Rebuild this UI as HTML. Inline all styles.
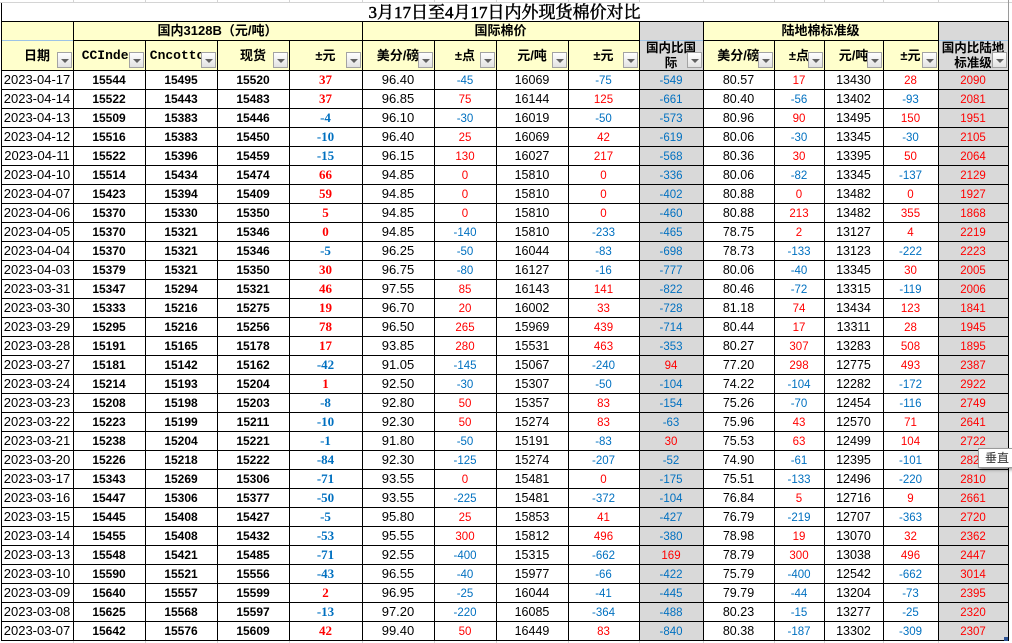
<!DOCTYPE html>
<html><head><meta charset="utf-8">
<style>
*{margin:0;padding:0;box-sizing:border-box}
html,body{width:1012px;height:643px;overflow:hidden;background:#fff}
#c{position:relative;width:1012px;height:643px;background:#fff;font-family:"Liberation Sans","Noto Sans CJK SC",sans-serif}
.abs{position:absolute}
.yel{background:#ffffcc}
.gry{background:#d9d9d9}
.hl{position:absolute;height:1px;background:#000}
.vl{position:absolute;width:1px;background:#000}
.gl{position:absolute;background:#d4d4d4}
.title{position:absolute;left:1px;top:4px;width:1007px;height:18px;line-height:18px;text-align:center;font-family:"Liberation Serif","Noto Serif CJK SC",serif;font-size:17px;-webkit-text-stroke:0.5px #000;color:#000;white-space:nowrap}
.h1{position:absolute;top:22px;height:18px;line-height:18px;text-align:center;font-family:"Liberation Sans","Noto Sans CJK SC",sans-serif;font-weight:bold;font-size:13px;color:#000;white-space:nowrap}
.hrow{position:absolute;left:1px;top:41px;height:29px;display:flex}
.hrow span{display:block;height:29px;line-height:30px;text-align:center;overflow:hidden;white-space:nowrap;font-family:"Liberation Sans","Noto Sans CJK SC",sans-serif;font-weight:bold;font-size:13px;color:#000}
.hrow span.m{font-family:"Liberation Mono",monospace;font-size:13px}
.hrow span.two{white-space:normal;line-height:15px;font-size:12.5px;padding:0 2px;word-break:break-all}
.row{position:absolute;left:1px;height:19px;display:flex;border-top:1px solid #000;width:1008px}
.row span{display:block;height:18px;line-height:18px;text-align:center;overflow:hidden;white-space:nowrap;font-family:"Liberation Sans",sans-serif;font-size:13px;color:#000}
.row span:nth-child(1),.hrow span:nth-child(1){width:72px}
.row span:nth-child(2),.hrow span:nth-child(2){width:72px}
.row span:nth-child(3),.hrow span:nth-child(3){width:72px}
.row span:nth-child(4),.hrow span:nth-child(4){width:72px}
.row span:nth-child(5),.hrow span:nth-child(5){width:73px}
.row span:nth-child(6),.hrow span:nth-child(6){width:72px}
.row span:nth-child(7),.hrow span:nth-child(7){width:62px}
.row span:nth-child(8),.hrow span:nth-child(8){width:72px}
.row span:nth-child(9),.hrow span:nth-child(9){width:71px}
.row span:nth-child(10),.hrow span:nth-child(10){width:64px}
.row span:nth-child(11),.hrow span:nth-child(11){width:71px}
.row span:nth-child(12),.hrow span:nth-child(12){width:50px}
.row span:nth-child(13),.hrow span:nth-child(13){width:59px}
.row span:nth-child(14),.hrow span:nth-child(14){width:55px}
.row span:nth-child(15),.hrow span:nth-child(15){width:70px}
.row span:nth-child(2),.row span:nth-child(3),.row span:nth-child(4){font-weight:bold;font-size:12px}
.row span:nth-child(5){font-family:"Liberation Serif",serif;font-weight:bold;font-size:13px}
.row span:nth-child(8),.row span:nth-child(11),.row span:nth-child(13){font-size:12.5px}
.row span:nth-child(7),.row span:nth-child(9),.row span:nth-child(10),.row span:nth-child(12),.row span:nth-child(14),.row span:nth-child(15){font-size:11.5px;padding-top:1px}
.row span.r{color:#ff0000}
.row span.b{color:#0070c0}
.btn{position:absolute;top:52px;width:15px;height:16px;border:1px solid #a3a3a3;background:linear-gradient(#fefefe,#e2e2e2)}
.btn:after{content:"";position:absolute;left:3px;top:6px;border-left:4px solid transparent;border-right:4px solid transparent;border-top:4px solid #606060}
.tip{position:absolute;left:978px;top:448px;width:40px;height:20px;background:#fff;border:1px solid #9a9a9a;box-shadow:2px 2px 3px rgba(0,0,0,.35);font-family:"Noto Sans CJK SC",sans-serif;font-size:12px;line-height:18px;padding-left:6px;color:#333}
</style></head><body>
<div id="c">
<div class="gl" style="left:0;top:2px;width:1012px;height:1px"></div>
<div class="gl" style="left:73px;top:0;width:1px;height:3px"></div>
<div class="gl" style="left:145px;top:0;width:1px;height:3px"></div>
<div class="gl" style="left:217px;top:0;width:1px;height:3px"></div>
<div class="gl" style="left:289px;top:0;width:1px;height:3px"></div>
<div class="gl" style="left:362px;top:0;width:1px;height:3px"></div>
<div class="gl" style="left:434px;top:0;width:1px;height:3px"></div>
<div class="gl" style="left:496px;top:0;width:1px;height:3px"></div>
<div class="gl" style="left:568px;top:0;width:1px;height:3px"></div>
<div class="gl" style="left:639px;top:0;width:1px;height:3px"></div>
<div class="gl" style="left:703px;top:0;width:1px;height:3px"></div>
<div class="gl" style="left:774px;top:0;width:1px;height:3px"></div>
<div class="gl" style="left:824px;top:0;width:1px;height:3px"></div>
<div class="gl" style="left:883px;top:0;width:1px;height:3px"></div>
<div class="gl" style="left:938px;top:0;width:1px;height:3px"></div>
<div class="gl" style="left:1008px;top:0;width:1px;height:21px;background:#9a9a9a"></div>
<div class="gl" style="left:73px;top:641px;width:1px;height:2px"></div>
<div class="gl" style="left:145px;top:641px;width:1px;height:2px"></div>
<div class="gl" style="left:217px;top:641px;width:1px;height:2px"></div>
<div class="gl" style="left:289px;top:641px;width:1px;height:2px"></div>
<div class="gl" style="left:362px;top:641px;width:1px;height:2px"></div>
<div class="gl" style="left:434px;top:641px;width:1px;height:2px"></div>
<div class="gl" style="left:496px;top:641px;width:1px;height:2px"></div>
<div class="gl" style="left:568px;top:641px;width:1px;height:2px"></div>
<div class="gl" style="left:639px;top:641px;width:1px;height:2px"></div>
<div class="gl" style="left:703px;top:641px;width:1px;height:2px"></div>
<div class="gl" style="left:774px;top:641px;width:1px;height:2px"></div>
<div class="gl" style="left:824px;top:641px;width:1px;height:2px"></div>
<div class="gl" style="left:883px;top:641px;width:1px;height:2px"></div>
<div class="gl" style="left:938px;top:641px;width:1px;height:2px"></div>

<div class="abs yel" style="left:1px;top:21px;width:1007px;height:49px"></div>
<div class="abs gry" style="left:639px;top:21px;width:64px;height:620px"></div>
<div class="abs gry" style="left:938px;top:21px;width:70px;height:620px"></div>

<div class="title">3月17日至4月17日内外现货棉价对比</div>

<div class="h1" style="left:73px;width:289px">国内3128B（元/吨）</div>
<div class="h1" style="left:362px;width:277px">国际棉价</div>
<div class="h1" style="left:703px;width:235px">陆地棉标准级</div>

<div class="hrow">
<span>日期</span><span class="m">CCIndex</span><span class="m">Cncotton</span><span>现货</span><span>±元</span><span>美分/磅</span><span>±点</span><span>元/吨</span><span>±元</span><span class="two">国内比国际</span><span>美分/磅</span><span>±点</span><span>元/吨</span><span>±元</span><span class="two">国内比陆地标准级</span>
</div>

<div class="btn" style="left:57px"></div>
<div class="btn" style="left:129px"></div>
<div class="btn" style="left:201px"></div>
<div class="btn" style="left:273px"></div>
<div class="btn" style="left:346px"></div>
<div class="btn" style="left:418px"></div>
<div class="btn" style="left:480px"></div>
<div class="btn" style="left:552px"></div>
<div class="btn" style="left:623px"></div>
<div class="btn" style="left:687px"></div>
<div class="btn" style="left:758px"></div>
<div class="btn" style="left:808px"></div>
<div class="btn" style="left:867px"></div>
<div class="btn" style="left:922px"></div>
<div class="btn" style="left:992px"></div>

<div class="row" style="top:70px"><span>2023-04-17</span><span>15544</span><span>15495</span><span>15520</span><span class="r">37</span><span>96.40</span><span class="b">-45</span><span>16069</span><span class="b">-75</span><span class="b">-549</span><span>80.57</span><span class="r">17</span><span>13430</span><span class="r">28</span><span class="r">2090</span></div>
<div class="row" style="top:89px"><span>2023-04-14</span><span>15522</span><span>15443</span><span>15483</span><span class="r">37</span><span>96.85</span><span class="r">75</span><span>16144</span><span class="r">125</span><span class="b">-661</span><span>80.40</span><span class="b">-56</span><span>13402</span><span class="b">-93</span><span class="r">2081</span></div>
<div class="row" style="top:108px"><span>2023-04-13</span><span>15509</span><span>15383</span><span>15446</span><span class="b">-4</span><span>96.10</span><span class="b">-30</span><span>16019</span><span class="b">-50</span><span class="b">-573</span><span>80.96</span><span class="r">90</span><span>13495</span><span class="r">150</span><span class="r">1951</span></div>
<div class="row" style="top:127px"><span>2023-04-12</span><span>15516</span><span>15383</span><span>15450</span><span class="b">-10</span><span>96.40</span><span class="r">25</span><span>16069</span><span class="r">42</span><span class="b">-619</span><span>80.06</span><span class="b">-30</span><span>13345</span><span class="b">-30</span><span class="r">2105</span></div>
<div class="row" style="top:146px"><span>2023-04-11</span><span>15522</span><span>15396</span><span>15459</span><span class="b">-15</span><span>96.15</span><span class="r">130</span><span>16027</span><span class="r">217</span><span class="b">-568</span><span>80.36</span><span class="r">30</span><span>13395</span><span class="r">50</span><span class="r">2064</span></div>
<div class="row" style="top:165px"><span>2023-04-10</span><span>15514</span><span>15434</span><span>15474</span><span class="r">66</span><span>94.85</span><span class="r">0</span><span>15810</span><span class="r">0</span><span class="b">-336</span><span>80.06</span><span class="b">-82</span><span>13345</span><span class="b">-137</span><span class="r">2129</span></div>
<div class="row" style="top:184px"><span>2023-04-07</span><span>15423</span><span>15394</span><span>15409</span><span class="r">59</span><span>94.85</span><span class="r">0</span><span>15810</span><span class="r">0</span><span class="b">-402</span><span>80.88</span><span class="r">0</span><span>13482</span><span class="r">0</span><span class="r">1927</span></div>
<div class="row" style="top:203px"><span>2023-04-06</span><span>15370</span><span>15330</span><span>15350</span><span class="r">5</span><span>94.85</span><span class="r">0</span><span>15810</span><span class="r">0</span><span class="b">-460</span><span>80.88</span><span class="r">213</span><span>13482</span><span class="r">355</span><span class="r">1868</span></div>
<div class="row" style="top:222px"><span>2023-04-05</span><span>15370</span><span>15321</span><span>15346</span><span class="r">0</span><span>94.85</span><span class="b">-140</span><span>15810</span><span class="b">-233</span><span class="b">-465</span><span>78.75</span><span class="r">2</span><span>13127</span><span class="r">4</span><span class="r">2219</span></div>
<div class="row" style="top:241px"><span>2023-04-04</span><span>15370</span><span>15321</span><span>15346</span><span class="b">-5</span><span>96.25</span><span class="b">-50</span><span>16044</span><span class="b">-83</span><span class="b">-698</span><span>78.73</span><span class="b">-133</span><span>13123</span><span class="b">-222</span><span class="r">2223</span></div>
<div class="row" style="top:260px"><span>2023-04-03</span><span>15379</span><span>15321</span><span>15350</span><span class="r">30</span><span>96.75</span><span class="b">-80</span><span>16127</span><span class="b">-16</span><span class="b">-777</span><span>80.06</span><span class="b">-40</span><span>13345</span><span class="r">30</span><span class="r">2005</span></div>
<div class="row" style="top:279px"><span>2023-03-31</span><span>15347</span><span>15294</span><span>15321</span><span class="r">46</span><span>97.55</span><span class="r">85</span><span>16143</span><span class="r">141</span><span class="b">-822</span><span>80.46</span><span class="b">-72</span><span>13315</span><span class="b">-119</span><span class="r">2006</span></div>
<div class="row" style="top:298px"><span>2023-03-30</span><span>15333</span><span>15216</span><span>15275</span><span class="r">19</span><span>96.70</span><span class="r">20</span><span>16002</span><span class="r">33</span><span class="b">-728</span><span>81.18</span><span class="r">74</span><span>13434</span><span class="r">123</span><span class="r">1841</span></div>
<div class="row" style="top:317px"><span>2023-03-29</span><span>15295</span><span>15216</span><span>15256</span><span class="r">78</span><span>96.50</span><span class="r">265</span><span>15969</span><span class="r">439</span><span class="b">-714</span><span>80.44</span><span class="r">17</span><span>13311</span><span class="r">28</span><span class="r">1945</span></div>
<div class="row" style="top:336px"><span>2023-03-28</span><span>15191</span><span>15165</span><span>15178</span><span class="r">17</span><span>93.85</span><span class="r">280</span><span>15531</span><span class="r">463</span><span class="b">-353</span><span>80.27</span><span class="r">307</span><span>13283</span><span class="r">508</span><span class="r">1895</span></div>
<div class="row" style="top:355px"><span>2023-03-27</span><span>15181</span><span>15142</span><span>15162</span><span class="b">-42</span><span>91.05</span><span class="b">-145</span><span>15067</span><span class="b">-240</span><span class="r">94</span><span>77.20</span><span class="r">298</span><span>12775</span><span class="r">493</span><span class="r">2387</span></div>
<div class="row" style="top:374px"><span>2023-03-24</span><span>15214</span><span>15193</span><span>15204</span><span class="r">1</span><span>92.50</span><span class="b">-30</span><span>15307</span><span class="b">-50</span><span class="b">-104</span><span>74.22</span><span class="b">-104</span><span>12282</span><span class="b">-172</span><span class="r">2922</span></div>
<div class="row" style="top:393px"><span>2023-03-23</span><span>15208</span><span>15198</span><span>15203</span><span class="b">-8</span><span>92.80</span><span class="r">50</span><span>15357</span><span class="r">83</span><span class="b">-154</span><span>75.26</span><span class="b">-70</span><span>12454</span><span class="b">-116</span><span class="r">2749</span></div>
<div class="row" style="top:412px"><span>2023-03-22</span><span>15223</span><span>15199</span><span>15211</span><span class="b">-10</span><span>92.30</span><span class="r">50</span><span>15274</span><span class="r">83</span><span class="b">-63</span><span>75.96</span><span class="r">43</span><span>12570</span><span class="r">71</span><span class="r">2641</span></div>
<div class="row" style="top:431px"><span>2023-03-21</span><span>15238</span><span>15204</span><span>15221</span><span class="b">-1</span><span>91.80</span><span class="b">-50</span><span>15191</span><span class="b">-83</span><span class="r">30</span><span>75.53</span><span class="r">63</span><span>12499</span><span class="r">104</span><span class="r">2722</span></div>
<div class="row" style="top:450px"><span>2023-03-20</span><span>15226</span><span>15218</span><span>15222</span><span class="b">-84</span><span>92.30</span><span class="b">-125</span><span>15274</span><span class="b">-207</span><span class="b">-52</span><span>74.90</span><span class="b">-61</span><span>12395</span><span class="b">-101</span><span class="r">2827</span></div>
<div class="row" style="top:469px"><span>2023-03-17</span><span>15343</span><span>15269</span><span>15306</span><span class="b">-71</span><span>93.55</span><span class="r">0</span><span>15481</span><span class="r">0</span><span class="b">-175</span><span>75.51</span><span class="b">-133</span><span>12496</span><span class="b">-220</span><span class="r">2810</span></div>
<div class="row" style="top:488px"><span>2023-03-16</span><span>15447</span><span>15306</span><span>15377</span><span class="b">-50</span><span>93.55</span><span class="b">-225</span><span>15481</span><span class="b">-372</span><span class="b">-104</span><span>76.84</span><span class="r">5</span><span>12716</span><span class="r">9</span><span class="r">2661</span></div>
<div class="row" style="top:507px"><span>2023-03-15</span><span>15445</span><span>15408</span><span>15427</span><span class="b">-5</span><span>95.80</span><span class="r">25</span><span>15853</span><span class="r">41</span><span class="b">-427</span><span>76.79</span><span class="b">-219</span><span>12707</span><span class="b">-363</span><span class="r">2720</span></div>
<div class="row" style="top:526px"><span>2023-03-14</span><span>15455</span><span>15408</span><span>15432</span><span class="b">-53</span><span>95.55</span><span class="r">300</span><span>15812</span><span class="r">496</span><span class="b">-380</span><span>78.98</span><span class="r">19</span><span>13070</span><span class="r">32</span><span class="r">2362</span></div>
<div class="row" style="top:545px"><span>2023-03-13</span><span>15548</span><span>15421</span><span>15485</span><span class="b">-71</span><span>92.55</span><span class="b">-400</span><span>15315</span><span class="b">-662</span><span class="r">169</span><span>78.79</span><span class="r">300</span><span>13038</span><span class="r">496</span><span class="r">2447</span></div>
<div class="row" style="top:564px"><span>2023-03-10</span><span>15590</span><span>15521</span><span>15556</span><span class="b">-43</span><span>96.55</span><span class="b">-40</span><span>15977</span><span class="b">-66</span><span class="b">-422</span><span>75.79</span><span class="b">-400</span><span>12542</span><span class="b">-662</span><span class="r">3014</span></div>
<div class="row" style="top:583px"><span>2023-03-09</span><span>15640</span><span>15557</span><span>15599</span><span class="r">2</span><span>96.95</span><span class="b">-25</span><span>16044</span><span class="b">-41</span><span class="b">-445</span><span>79.79</span><span class="b">-44</span><span>13204</span><span class="b">-73</span><span class="r">2395</span></div>
<div class="row" style="top:602px"><span>2023-03-08</span><span>15625</span><span>15568</span><span>15597</span><span class="b">-13</span><span>97.20</span><span class="b">-220</span><span>16085</span><span class="b">-364</span><span class="b">-488</span><span>80.23</span><span class="b">-15</span><span>13277</span><span class="b">-25</span><span class="r">2320</span></div>
<div class="row" style="top:621px"><span>2023-03-07</span><span>15642</span><span>15576</span><span>15609</span><span class="r">42</span><span>99.40</span><span class="r">50</span><span>16449</span><span class="r">83</span><span class="b">-840</span><span>80.38</span><span class="b">-187</span><span>13302</span><span class="b">-309</span><span class="r">2307</span></div>

<div class="hl" style="left:1px;top:21px;width:1008px"></div>
<div class="hl" style="left:73px;top:40px;width:566px"></div>
<div class="hl" style="left:703px;top:40px;width:235px"></div>
<div class="hl" style="left:1px;top:40px;width:72px;background:#9dc3e6"></div>
<div class="hl" style="left:640px;top:40px;width:63px;background:#9dc3e6"></div>
<div class="hl" style="left:939px;top:40px;width:69px;background:#9dc3e6"></div>
<div class="hl" style="left:1px;top:640px;width:1008px"></div>

<div class="vl" style="left:1px;top:3px;height:638px"></div>
<div class="vl" style="left:73px;top:21px;height:620px"></div>
<div class="vl" style="left:145px;top:40px;height:601px"></div>
<div class="vl" style="left:217px;top:40px;height:601px"></div>
<div class="vl" style="left:289px;top:40px;height:601px"></div>
<div class="vl" style="left:362px;top:21px;height:620px"></div>
<div class="vl" style="left:434px;top:40px;height:601px"></div>
<div class="vl" style="left:496px;top:40px;height:601px"></div>
<div class="vl" style="left:568px;top:40px;height:601px"></div>
<div class="vl" style="left:639px;top:21px;height:620px"></div>
<div class="vl" style="left:703px;top:21px;height:620px"></div>
<div class="vl" style="left:774px;top:40px;height:601px"></div>
<div class="vl" style="left:824px;top:40px;height:601px"></div>
<div class="vl" style="left:883px;top:40px;height:601px"></div>
<div class="vl" style="left:938px;top:21px;height:620px"></div>
<div class="vl" style="left:1008px;top:21px;height:620px"></div>

<div class="abs" style="left:1004px;top:637px;width:4px;height:4px;background:#2f5597"></div>

<div class="tip">垂直</div>
</div>
</body></html>
